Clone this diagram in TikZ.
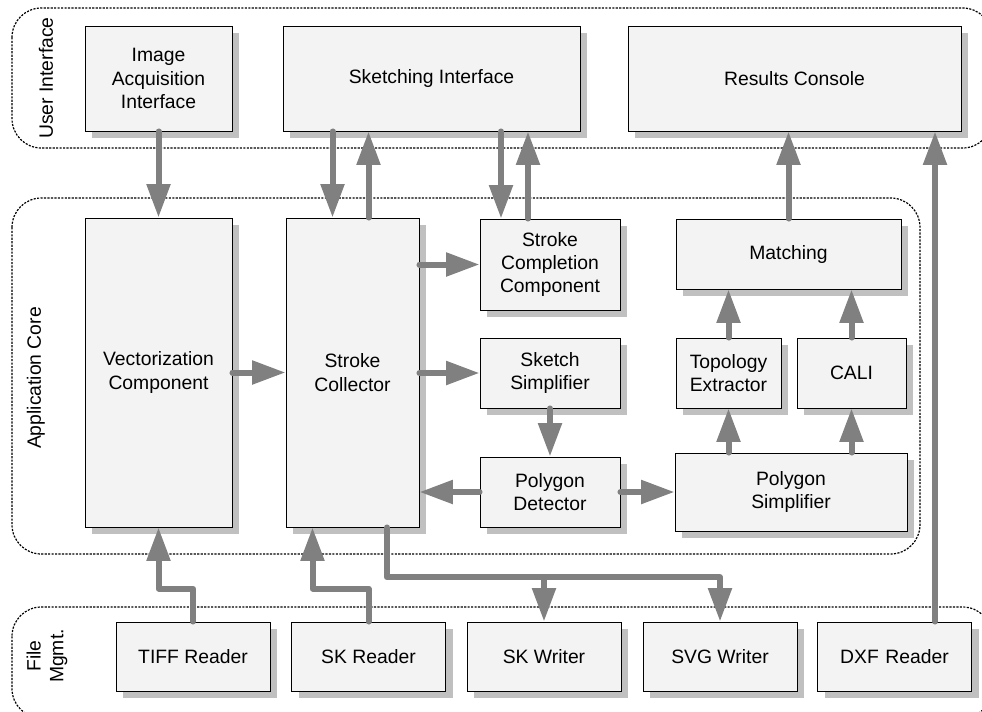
\documentclass[tikz,border=0pt]{standalone}
\usepackage{fontspec}
\setmainfont{Liberation Sans}
\usetikzlibrary{arrows.meta,calc,shadows}

\definecolor{boxfill}{HTML}{F3F3F3}
\definecolor{boxshade}{HTML}{C0C0C0}
\definecolor{flowgray}{HTML}{808080}

\begin{document}
\begin{tikzpicture}[x=0.75pt,y=-0.75pt,
   module/.style={draw,line width=0.7pt,fill=boxfill,align=center,inner sep=2pt,
     font=\fontsize{14.5}{17.5}\selectfont,
     drop shadow={shadow xshift=5.25pt,shadow yshift=-5.25pt,fill=boxshade,opacity=1}},
   layer/.style={line width=0.9pt,dash pattern=on 1.6pt off 1pt,rounded corners=22pt},
   layername/.style={rotate=90,align=center,font=\fontsize{14.5}{17}\selectfont},
   flow/.style={draw=flowgray,line width=4.5pt,line cap=round,line join=round,
     -{Triangle[length=25pt,width=17pt]}}]
   \useasboundingbox (0,0) rectangle (982,711);

   % layers
   \draw[layer] (12,8) rectangle (992,148);
   \draw[layer] (12,198) rectangle (920,554);
   \draw[layer] (12,607) rectangle (992,718);
   \node[layername] (uilabel)   at (46,78)  {User Interface};
   \node[layername] (corelabel) at (36,378) {Application Core};
   \node[layername] (filelabel) at (47,656) {File\\Mgmt.};

   % user interface
   \node[module,minimum width=110.25pt,minimum height=78.75pt] (imgacq)   at (158.5,78.5) {Image\\Acquisition\\Interface};
   \node[module,minimum width=222.75pt,minimum height=78.75pt] (sketchif) at (431.5,78.5) {Sketching Interface};
   \node[module,minimum width=249.75pt,minimum height=78.75pt] (results)  at (794.5,78.5) {Results Console};

   % application core
   \node[module,minimum width=110.25pt,minimum height=231.75pt] (vector)    at (158.5,372.5) {Vectorization\\Component};
   \node[module,minimum width=99.75pt,minimum height=231.75pt]  (collector) at (352.5,372.5) {Stroke\\Collector};
   \node[module,minimum width=105pt,minimum height=68.25pt]  (completion) at (550,264.5) {Stroke\\Completion\\Component};
   \node[module,minimum width=105pt,minimum height=52.5pt]   (simplifier) at (550,373)   {Sketch\\Simplifier};
   \node[module,minimum width=105pt,minimum height=52.5pt]   (detector)   at (550,492)   {Polygon\\Detector};
   \node[module,minimum width=168.75pt,minimum height=52.5pt] (matching)  at (788.5,254) {Matching};
   \node[module,minimum width=78.75pt,minimum height=52.5pt]  (topology)  at (728.5,373) {Topology\\Extractor};
   \node[module,minimum width=81.75pt,minimum height=52.5pt]  (cali)      at (851.5,373) {CALI};
   \node[module,minimum width=174pt,minimum height=58.5pt]    (polysimp)  at (791,492)   {Polygon\\Simplifier};

   % file management
   \node[module,minimum width=115.5pt,minimum height=51.75pt] (tiff)    at (193,656.5)   {TIFF Reader};
   \node[module,minimum width=115.5pt,minimum height=51.75pt] (skread)  at (368.5,656.5) {SK Reader};
   \node[module,minimum width=115.5pt,minimum height=51.75pt] (skwrite) at (544,656.5)   {SK Writer};
   \node[module,minimum width=115.5pt,minimum height=51.75pt] (svg)     at (720,656.5)   {SVG Writer};
   \node[module,minimum width=115.5pt,minimum height=51.75pt] (dxf)     at (894.5,656.5) {DXF\,\,Reader};

   % ports off the middle of a side
   \coordinate (cdown)  at ($(collector.north)+(-20,0)$);
   \coordinate (cup)    at ($(collector.north)+(16,0)$);
   \coordinate (kdown)  at ($(completion.north)+(-49,0)$);
   \coordinate (kup)    at ($(completion.north)+(-22,0)$);
   \coordinate (dxfout) at ($(dxf.north)+(40.5,0)$);
   \coordinate (skin)   at ($(collector.south)+(-40,0)$);
   \coordinate (skout)  at ($(collector.south)+(34.5,0)$);

   % to and from the interface
   \draw[flow] (imgacq.south) -- (vector.north);
   \draw[flow] (cdown |- sketchif.south) -- (cdown);
   \draw[flow] (cup) -- (cup |- sketchif.south);
   \draw[flow] (kdown |- sketchif.south) -- (kdown);
   \draw[flow] (kup) -- (kup |- sketchif.south);
   \draw[flow] (matching.north) -- (matching.north |- results.south);
   \draw[flow] (dxfout) -- (dxfout |- results.south);

   % inside the core
   \draw[flow] (vector) -- (collector);
   \draw[flow] (collector.east |- completion.west) -- (completion.west);
   \draw[flow] (collector.east |- simplifier.west) -- (simplifier.west);
   \draw[flow] (simplifier) -- (detector);
   \draw[flow] (detector.west) -- (detector.west -| collector.east);
   \draw[flow] (detector) -- (polysimp);
   \draw[flow] (topology.south |- polysimp.north) -- (topology.south);
   \draw[flow] (cali.south |- polysimp.north) -- (cali.south);
   \draw[flow] (topology.north) -- (topology.north |- matching.south);
   \draw[flow] (cali.north) -- (cali.north |- matching.south);

   % readers and writers
   \draw[flow] (tiff.north) -- ++(0,-33) -| (vector.south);
   \draw[flow] (skread.north) -- ++(0,-33) -| (skin);
   \draw[flow] (skout) -- ++(0,50) coordinate (bus) -| (svg.north);
   \draw[flow] (bus -| skwrite.north) -- (skwrite.north);
\end{tikzpicture}
\end{document}
